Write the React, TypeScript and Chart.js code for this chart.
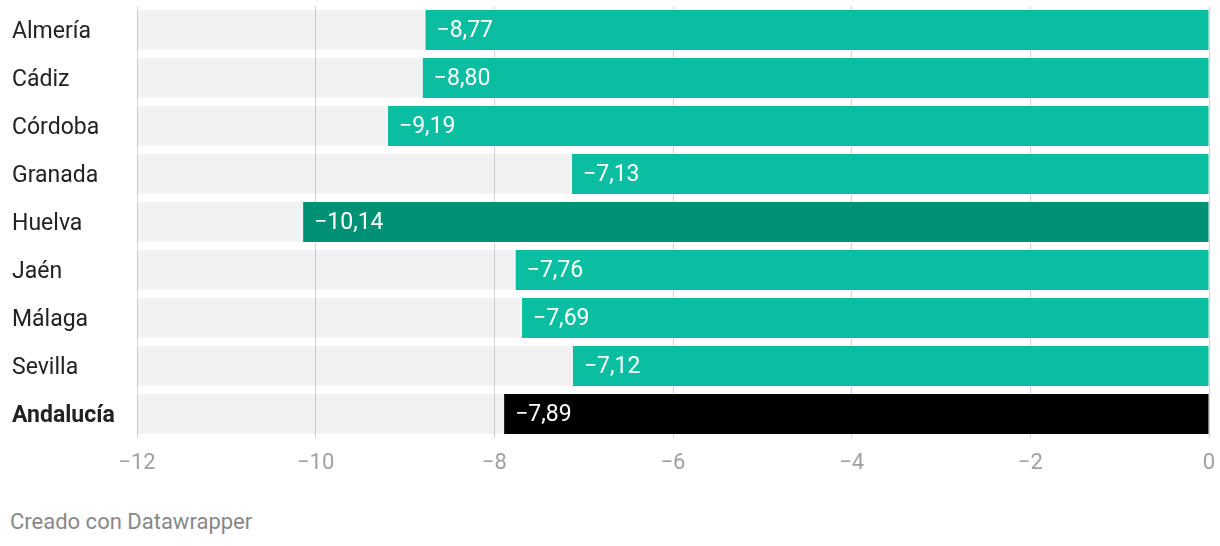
import React, { useEffect, useRef } from "react";
import { Chart, registerables } from "chart.js";

Chart.register(...registerables);

const categories = ["Almería", "Cádiz", "Córdoba", "Granada", "Huelva", "Jaén", "Málaga", "Sevilla", "Andalucía"];
const values = [-8.77, -8.8, -9.19, -7.13, -10.14, -7.76, -7.69, -7.12, -7.89];
const backgroundRange = [-12, -12, -12, -12, -12, -12, -12, -12, -12];
const barColors = ["#0cbea1", "#0cbea1", "#0cbea1", "#0cbea1", "#009175", "#0cbea1", "#0cbea1", "#0cbea1", "#000000"];
const xTickValues = [-12, -10, -8, -6, -4, -2, 0];
const footerText = "Creado con Datawrapper";

const fmt = (v: number, decimals: number) => {
  const s = Math.abs(v).toFixed(decimals).replace(".", ",");
  return v < 0 ? "\u2212" + s : s;
};

const valueLabelPlugin = {
  id: "valueLabels",
  afterDatasetsDraw(chart: any) {
    const meta = chart.getDatasetMeta(0);
    const ctx = chart.ctx;
    ctx.save();
    ctx.font = "23px Roboto";
    ctx.fillStyle = "#ffffff";
    ctx.textAlign = "left";
    ctx.textBaseline = "middle";
    meta.data.forEach((el: any, i: number) => {
      ctx.fillText(fmt(values[i], 2), el.x + 11, el.y + 1);
    });
    ctx.restore();
  },
};

export default function App() {
  const ref = useRef<HTMLCanvasElement | null>(null);
  useEffect(() => {
    if (!ref.current) return;
    const chart = new Chart(ref.current, {
      type: "bar",
      data: {
        labels: categories,
        datasets: [
          {
            data: values,
            backgroundColor: barColors,
            borderWidth: 0,
            categoryPercentage: 1,
            barPercentage: 40 / 48,
            grouped: false,
          },
          {
            data: backgroundRange,
            backgroundColor: "rgba(0,0,0,0.05)",
            borderWidth: 0,
            categoryPercentage: 1,
            barPercentage: 40 / 48,
            grouped: false,
          },
        ],
      },
      options: {
        indexAxis: "y",
        animation: false,
        responsive: true,
        maintainAspectRatio: false,
        layout: { padding: { left: 12, top: 6, right: 11, bottom: 0 } },
        plugins: { legend: { display: false }, tooltip: { enabled: false } },
        scales: {
          x: {
            min: -12,
            max: 0,
            afterBuildTicks: (scale: any) => {
              scale.ticks = xTickValues.map((v) => ({ value: v }));
            },
            afterFit: (scale: any) => {
              scale.height = 42;
              scale.paddingLeft = 0;
              scale.paddingRight = 0;
            },
            grid: { color: "#d4d4d4", lineWidth: 1, drawTicks: false },
            border: { display: false },
            ticks: {
              padding: 12,
              color: "#a0a0a0",
              font: { family: "Roboto", size: 22 },
              callback: (v: any) => fmt(Number(v), 0),
            },
          },
          y: {
            afterFit: (scale: any) => {
              scale.width = 125;
              scale.paddingTop = 0;
              scale.paddingBottom = 0;
            },
            grid: { display: false },
            border: { display: false },
            ticks: {
              crossAlign: "far",
              labelOffset: 2,
              color: "#222222",
              font: (c: any) => ({
                family: "Roboto",
                size: 23,
                weight: c.index === categories.length - 1 ? "bold" : "normal",
              }),
            },
          },
        },
      },
      plugins: [valueLabelPlugin],
    } as any);
    return () => chart.destroy();
  }, []);

  return (
    <div style={{ position: "absolute", left: 0, top: 0, width: 1220, height: 546, background: "#fff" }}>
      <div style={{ position: "absolute", left: 0, top: 0, width: 1220, height: 480 }}>
        <canvas ref={ref} />
      </div>
      <div
        style={{
          position: "absolute",
          left: 10,
          top: 510,
          fontFamily: "Roboto",
          fontSize: 22,
          lineHeight: "24px",
          color: "#888888",
        }}
      >
        {footerText}
      </div>
    </div>
  );
}
